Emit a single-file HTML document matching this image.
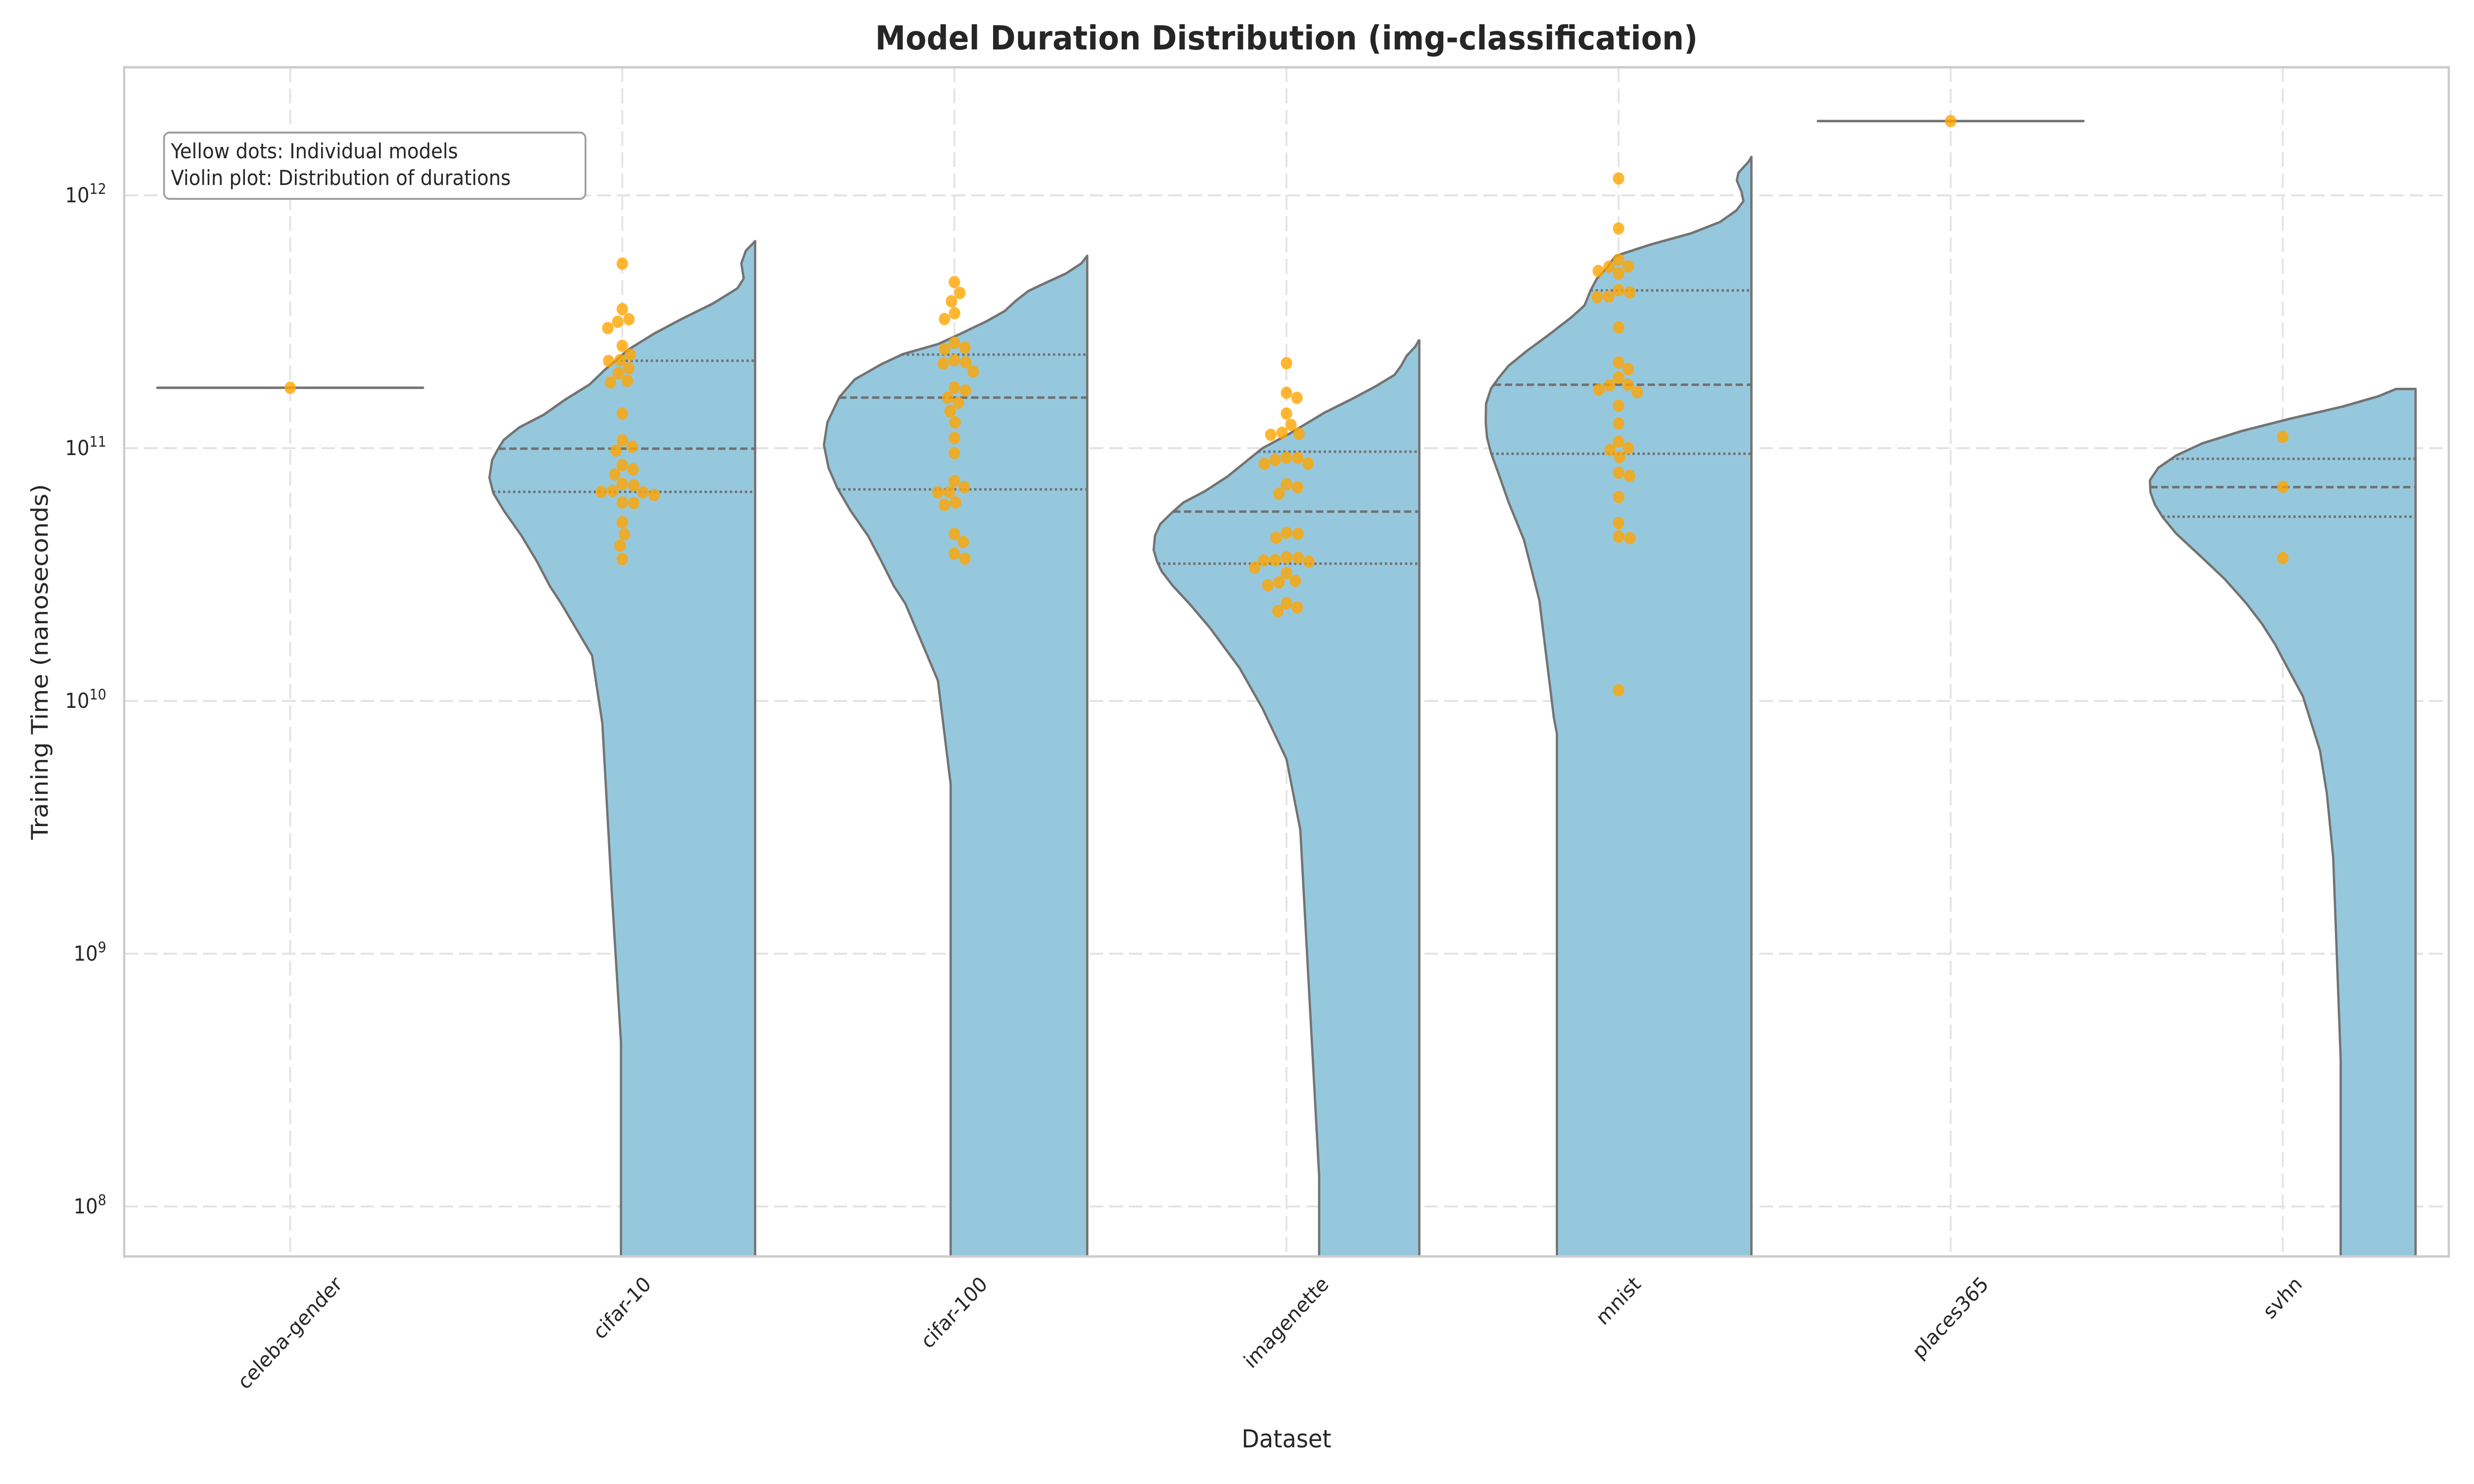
<!DOCTYPE html>
<html><head><meta charset="utf-8">
<style>
html,body{margin:0;padding:0;background:#fff;overflow:hidden;width:100%;height:100%;}
svg{display:block;width:100vw;height:100vh;}
text{font-family:"DejaVu Sans","Liberation Sans",sans-serif;fill:#262626;}
</style></head>
<body>
<svg id="chart" viewBox="0 0 5400 3000" preserveAspectRatio="none" xmlns="http://www.w3.org/2000/svg">
  <defs><clipPath id="plotclip"><rect x="271" y="136" width="5074" height="2404"/></clipPath></defs>
  <rect x="0" y="0" width="5400" height="3000" fill="#fff"/>
  <g id="grid"></g>
  <g id="violins" clip-path="url(#plotclip)"></g>
  <g id="dots" clip-path="url(#plotclip)"></g>
  <rect x="271" y="136" width="5074" height="2404" fill="none" stroke="#cccccc" stroke-width="5"/>
  <g id="yticks"></g>
  <g id="xticks"></g>
  <text x="2808" y="100" text-anchor="middle" font-size="66.7" font-weight="bold">Model Duration Distribution (img-classification)</text>
  <text x="2808" y="2926" text-anchor="middle" font-size="50">Dataset</text>
  <text transform="translate(104,1338) rotate(-90)" text-anchor="middle" font-size="50">Training Time (nanoseconds)</text>
  <g>
    <rect x="358" y="268" width="920" height="134" rx="12" ry="12" fill="#fff" stroke="#a0a0a0" stroke-width="4"/>
    <text x="373" y="320" font-size="41.7">Yellow dots: Individual models</text>
    <text x="373" y="374" font-size="41.7">Violin plot: Distribution of durations</text>
  </g>
</svg>
<script>
// ---- data (log10 of duration in ns) ----
const categories = ["celeba-gender","cifar-10","cifar-100","imagenette","mnist","places365","svhn"];
const yTickExps = [8,9,10,11,12];

const celebaDots = [11.239];
const places365Dots = [12.294];
const cifar10Dots = [11.73,11.55,11.51,11.50,11.475,11.405,11.37,11.348,11.345,11.316,11.296,11.266,11.26,11.137,11.031,11.006,10.99,10.933,10.916,10.896,10.853,10.825,10.827,10.815,10.831,10.858,10.785,10.783,10.707,10.659,10.614,10.561];
const cifar100Dots = [11.657,11.614,11.581,11.534,11.511,11.417,11.398,11.392,11.348,11.34,11.335,11.303,11.24,11.228,11.2,11.18,11.146,11.102,11.04,10.981,10.87,10.846,10.826,10.825,10.785,10.776,10.66,10.629,10.583,10.563];
const imagenetteDots = [11.336,11.219,11.199,11.137,11.092,11.057,11.053,11.061,10.961,10.939,10.938,10.953,10.962,10.845,10.857,10.82,10.661,10.645,10.665,10.568,10.557,10.551,10.556,10.566,10.527,10.506,10.469,10.458,10.475,10.37,10.355,10.387];
const mnistDots = [12.067,11.869,11.745,11.701,11.691,11.718,11.719,11.625,11.616,11.6,11.598,11.478,11.339,11.313,11.279,11.251,11.231,11.249,11.222,11.168,11.098,11.026,10.993,10.965,11.0,10.903,10.89,10.807,10.704,10.65,10.644,10.042];
const svhnDots = [11.045,10.847,10.565];

const cifar10ProfileLog = [11.819,11.781,11.731,11.671,11.632,11.572,11.512,11.452,11.392,11.312,11.252,11.192,11.132,11.082,11.033,10.998,10.953,10.883,10.823,10.753,10.653,10.553,10.453,10.386,10.18,9.91,9.25,8.65,7.6];
const cifar10ProfileWidth = [0,.035,.052,.043,.067,.159,.275,.382,.474,.564,.623,.715,.796,.888,.946,.967,.990,1.0,.986,.946,.879,.822,.772,.730,.614,.575,.540,.505,.505];
const cifar100ProfileLog = [11.761,11.731,11.691,11.651,11.622,11.582,11.542,11.502,11.452,11.412,11.372,11.332,11.272,11.202,11.102,11.013,10.923,10.843,10.753,10.653,10.553,10.453,10.386,10.08,9.67,7.6];
const cifar100ProfileWidth = [0,.022,.08,.163,.221,.27,.311,.379,.478,.561,.694,.775,.875,.933,.978,.991,.974,.941,.891,.825,.775,.727,.685,.562,.514,.514];
const imagenetteProfileLog = [11.426,11.402,11.365,11.327,11.29,11.243,11.196,11.14,11.093,11.056,11.0,10.944,10.888,10.831,10.785,10.747,10.7,10.654,10.597,10.551,10.513,10.457,10.382,10.289,10.195,10.131,9.97,9.77,9.49,8.12,7.6];
const imagenetteProfileWidth = [.002,.015,.048,.068,.093,.167,.251,.358,.432,.491,.59,.656,.722,.805,.888,.929,.975,.995,1.0,.987,.97,.929,.863,.788,.722,.677,.59,.50,.448,.377,.377];
const mnistProfileLog = [12.152,12.134,12.089,12.059,12.014,11.977,11.94,11.895,11.85,11.805,11.76,11.715,11.67,11.625,11.565,11.52,11.445,11.385,11.326,11.281,11.236,11.176,11.101,11.041,10.981,10.891,10.786,10.637,10.397,9.936,9.87,7.6];
const mnistProfileWidth = [0,.01,.049,.055,.037,.03,.057,.118,.227,.381,.512,.543,.582,.605,.628,.675,.767,.845,.914,.949,.98,.999,1.0,.995,.98,.949,.914,.856,.798,.744,.732,.732];
const svhnProfileLog = [11.234,11.206,11.165,11.117,11.068,11.019,10.971,10.922,10.873,10.825,10.776,10.727,10.662,10.581,10.484,10.386,10.305,10.224,10.143,10.018,9.804,9.634,9.38,8.583,7.6];
const svhnProfileWidth = [.074,.138,.273,.47,.654,.803,.901,.969,1.0,.998,.981,.952,.901,.818,.72,.637,.578,.529,.488,.424,.36,.334,.31,.282,.282];

const cifar10Quartiles = [11.346,10.998,10.827];
const cifar100Quartiles = [11.37,11.20,10.837];
const imagenetteQuartiles = [10.986,10.749,10.543];
const mnistQuartiles = [11.624,11.251,10.978];
const svhnQuartiles = [10.958,10.846,10.729];

// ---- layout ----
const NS = "http://www.w3.org/2000/svg";
const AX_L = 271, AX_R = 5345, AX_T = 136, AX_B = 2540;
const BAND = (AX_R - AX_L) / categories.length;
const HALF = BAND * 0.4;
function xCenter(i){ return AX_L + BAND * (i + 0.5); }
function yPos(logv){ return 395 + (12 - logv) * 511; }
function mk(tag, attrs, parent){ const e = document.createElementNS(NS, tag); for (const k in attrs) e.setAttribute(k, attrs[k]); parent.appendChild(e); return e; }

const gGrid = document.getElementById('grid');
const gV = document.getElementById('violins');
const gD = document.getElementById('dots');
const gY = document.getElementById('yticks');
const gX = document.getElementById('xticks');

yTickExps.forEach(function(e){
  const y = yPos(e);
  const l = mk('line', {x1:AX_L, x2:AX_R, y1:y, y2:y, stroke:'#e3e3e3', 'stroke-width':4, 'stroke-dasharray':'30 13'}, gGrid);
  
  
  const t = mk('text', {x:232, y:y+14, 'text-anchor':'end', 'font-size':41.7}, gY);
  
  
  t.textContent = '10';
  const s = document.createElementNS(NS, 'tspan');
  s.setAttribute('font-size', '29');
  s.setAttribute('dy', '-17');
  s.textContent = String(e);
  t.appendChild(s);
});
categories.forEach(function(c, i){
  const x = xCenter(i);
  const l = mk('line', {x1:x, x2:x, y1:AX_T, y2:AX_B, stroke:'#e3e3e3', 'stroke-width':4, 'stroke-dasharray':'30 13'}, gGrid);
  
  
});

function widthAt(logArr, wArr, v){
  for (let k = 0; k < logArr.length - 1; k++){
    const a = logArr[k], b = logArr[k+1];
    if ((v <= a && v >= b)){ const t = (a - v) / (a - b); return wArr[k] + t * (wArr[k+1] - wArr[k]); }
  }
  return wArr[wArr.length-1];
}

function drawViolin(i, logArr, wArr, quarts, name){
  const cx = xCenter(i), right = cx + HALF, full = 2 * HALF;
  let d = 'M' + right + ',' + yPos(logArr[0]);
  for (let k = 0; k < logArr.length; k++){
    d += ' L' + (right - wArr[k] * full).toFixed(1) + ',' + yPos(logArr[k]).toFixed(1);
  }
  d += ' L' + right + ',' + yPos(logArr[logArr.length-1]).toFixed(1) + ' Z';
  const p = mk('path', {d:d, fill:'#96c8dd', stroke:'#737373', 'stroke-width':5, 'stroke-linejoin':'round'}, gV);
  
  
  quarts.forEach(function(q, qi){
    const y = yPos(q), xl = right - widthAt(logArr, wArr, q) * full;
    const l = mk('line', {x1:xl, x2:right, y1:y, y2:y, stroke:'#707070', 'stroke-width': 5, 'stroke-dasharray': qi === 1 ? '16 8' : '5 6'}, gV);
    
    
  });
}
function drawFlat(i, v, name){
  const cx = xCenter(i), y = yPos(v);
  const l = mk('line', {x1:cx-HALF, x2:cx+HALF, y1:y, y2:y, stroke:'#737373', 'stroke-width':5, 'stroke-linecap':'round'}, gV);
  
  
}

drawFlat(0, celebaDots[0], 'celeba-gender');
drawViolin(1, cifar10ProfileLog, cifar10ProfileWidth, cifar10Quartiles, 'cifar-10');
drawViolin(2, cifar100ProfileLog, cifar100ProfileWidth, cifar100Quartiles, 'cifar-100');
drawViolin(3, imagenetteProfileLog, imagenetteProfileWidth, imagenetteQuartiles, 'imagenette');
drawViolin(4, mnistProfileLog, mnistProfileWidth, mnistQuartiles, 'mnist');
drawFlat(5, places365Dots[0], 'places365');
drawViolin(6, svhnProfileLog, svhnProfileWidth, svhnQuartiles, 'svhn');

const R = 12.5;
function swarm(i, vals, name){
  const cx = xCenter(i);
  const ys = vals.map(yPos).slice().sort(function(a,b){return a-b;});
  const placed = [];
  ys.forEach(function(y){
    const near = placed.filter(function(p){ return Math.abs(p.y - y) < 2*R; });
    const cands = [0];
    near.forEach(function(p){ const dx = Math.sqrt(4*R*R - (p.y-y)*(p.y-y)); cands.push(p.x + dx, p.x - dx); });
    cands.sort(function(a,b){ return Math.abs(a) - Math.abs(b); });
    let x = 0;
    for (const c of cands){
      if (near.every(function(p){ return (p.x-c)*(p.x-c) + (p.y-y)*(p.y-y) >= 4*R*R - 0.5; })){ x = c; break; }
    }
    placed.push({x:x, y:y});
    const dot = mk('circle', {cx:(cx + x).toFixed(1), cy:y.toFixed(1), r:R, fill:'#ffa500', 'fill-opacity':0.8}, gD);
    
    
  });
}
swarm(0, celebaDots, 'celeba-gender');
swarm(1, cifar10Dots, 'cifar-10');
swarm(2, cifar100Dots, 'cifar-100');
swarm(3, imagenetteDots, 'imagenette');
swarm(4, mnistDots, 'mnist');
swarm(5, places365Dots, 'places365');
swarm(6, svhnDots, 'svhn');

categories.forEach(function(c, i){
  const cx = xCenter(i);
  const t = mk('text', {x:cx, y:0, 'text-anchor':'middle', 'dominant-baseline':'central', 'font-size':41.7}, gX);
  
  
  t.textContent = c;
  let w = 0;
  try { w = t.getComputedTextLength(); } catch(e) { w = c.length * 25; }
  if (!w) w = c.length * 25;
  const H = (w + 48) * 0.7071;
  const cy = 2572 + H/2;
  t.setAttribute('y', cy);
  t.setAttribute('transform', 'rotate(-45,' + cx + ',' + cy + ')');
});
</script>
</body></html>
